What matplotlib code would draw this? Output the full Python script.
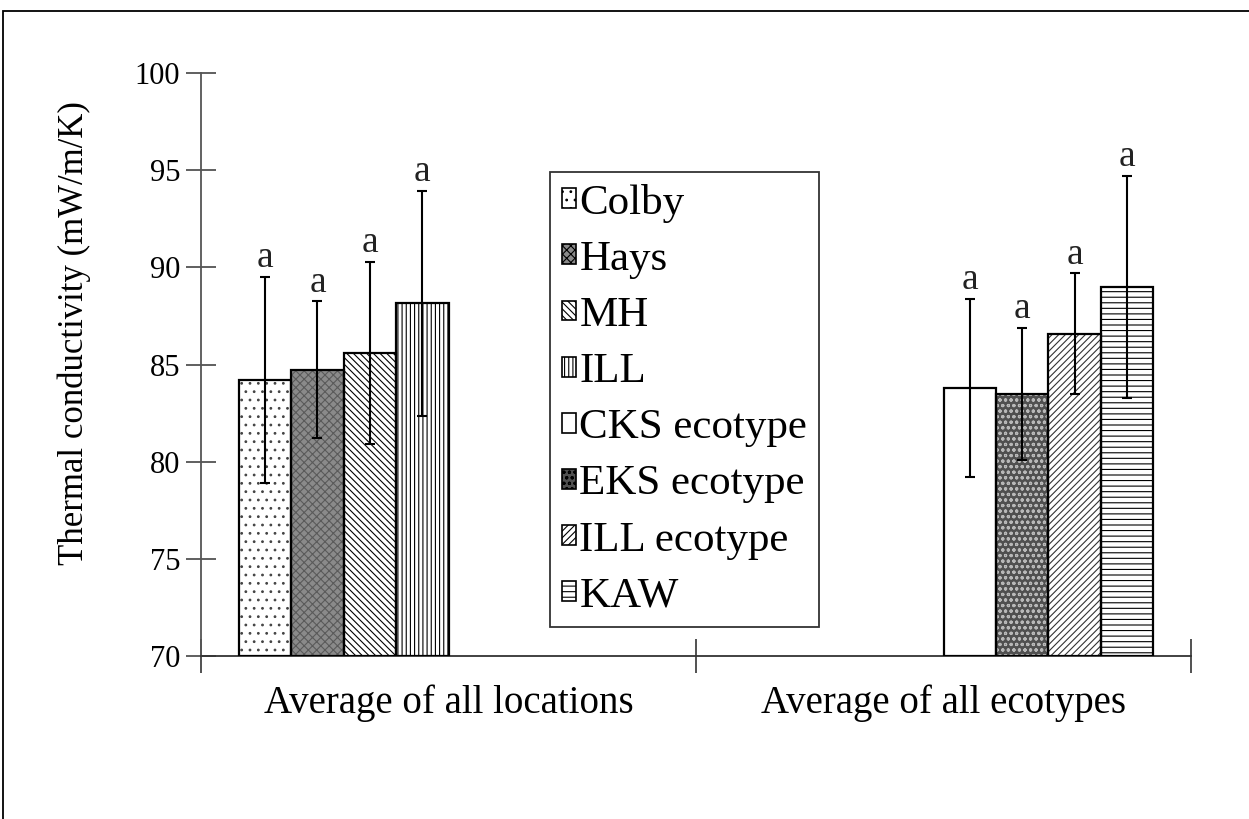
import numpy as np
import matplotlib
matplotlib.use('Agg')
import matplotlib.pyplot as plt
from matplotlib.patches import Patch, Rectangle

plt.rcParams['font.family'] = ['Liberation Serif', 'DejaVu Serif']
plt.rcParams['hatch.linewidth'] = 0.8

groups = ['Average of all locations', 'Average of all ecotypes']
series = ['Colby', 'Hays', 'MH', 'ILL',
          'CKS ecotype', 'EKS ecotype', 'ILL ecotype', 'KAW']
# first four series belong to the locations group, last four to the ecotypes group
group_of = [0, 0, 0, 0, 1, 1, 1, 1]
means = [84.2, 84.75, 85.6, 88.15, 83.8, 83.5, 86.6, 89.0]
errs = [5.3, 3.5, 4.7, 5.8, 4.6, 3.4, 3.1, 5.7]
letters = ['a', 'a', 'a', 'a', 'a', 'a', 'a', 'a']

faces = ['white', '#8a8a8a', 'white', 'white', 'white', '#505050', 'white', 'white']
hatches = ['..', 'xxxx', '\\\\\\\\\\', '||||', '', 'ooo', '/////', '---']
hatch_cols = ['#444444', '#5a5a5a', 'black', 'black', 'black', '#b8b8b8', '#333333', 'black']

fig = plt.figure(figsize=(12.49, 8.19), dpi=100)
ax = fig.add_axes([201 / 1249, 1 - 656.3 / 819, 990 / 1249, (656.3 - 73) / 819])

n = len(series)
width = 0.1059
handles = []
for i in range(n):
    x = group_of[i] + 0.5 + (i - (n - 1) / 2) * width
    ax.bar(x, means[i] - 70, width, bottom=70, color=faces[i], hatch=hatches[i],
           edgecolor=hatch_cols[i], linewidth=0, zorder=2)
    ax.bar(x, means[i] - 70, width, bottom=70, fill=False, edgecolor='black',
           linewidth=1.6, zorder=3)
    ax.errorbar(x, means[i], yerr=errs[i], fmt='none', ecolor='black',
                elinewidth=1.5, capsize=3.6, capthick=1.5, zorder=4)
    ax.annotate(letters[i], (x, means[i] + errs[i]), xytext=(0, 7),
                textcoords='offset points', ha='center', va='baseline',
                fontsize=27, color='#222222')
    handles.append(Patch(facecolor=faces[i], hatch=hatches[i],
                         edgecolor='black', linewidth=1.2, label=series[i]))

ax.set_xlim(0, 2)
ax.set_ylim(70, 100)
ax.set_yticks(np.arange(70, 101, 5))
ax.set_xticks([0, 1, 2])
ax.set_xticklabels([])
ax.set_xticks([0.5, 1.5], minor=True)
ax.set_xticklabels(groups, minor=True, fontsize=28)
ax.tick_params(axis='x', which='minor', length=0, pad=20)
ax.tick_params(axis='x', which='major', direction='inout', length=24,
               width=1.2, color='#333333')
ax.tick_params(axis='y', direction='inout', length=22, width=1.2,
               color='#444444', labelsize=22, pad=4)
ax.set_ylabel('Thermal conductivity (mW/m/K)', fontsize=25)
ax.yaxis.set_label_coords(-0.111, 0.554)

for side in ['top', 'right']:
    ax.spines[side].set_visible(False)
ax.spines['left'].set_color('#555555')
ax.spines['bottom'].set_color('#333333')
ax.spines['left'].set_linewidth(1.3)
ax.spines['bottom'].set_linewidth(1.3)

leg = fig.legend(handles=handles, loc='upper left',
                 bbox_to_anchor=(550 / 1249, 1 - 172 / 819), borderaxespad=0,
                 fontsize=31, handlelength=0.33, handleheight=0.33,
                 handletextpad=0.08, labelspacing=0.41, borderpad=0.27,
                 fancybox=False, framealpha=1, edgecolor='#333333')
leg.get_frame().set_linewidth(1.3)

# outer frame of the chart area
fig.add_artist(Rectangle((3 / 1249, -0.05), 1.2, 1.05 - 11 / 819,
                         transform=fig.transFigure, fill=False,
                         edgecolor='black', linewidth=1.3))

fig.savefig('out.png', dpi=100)
